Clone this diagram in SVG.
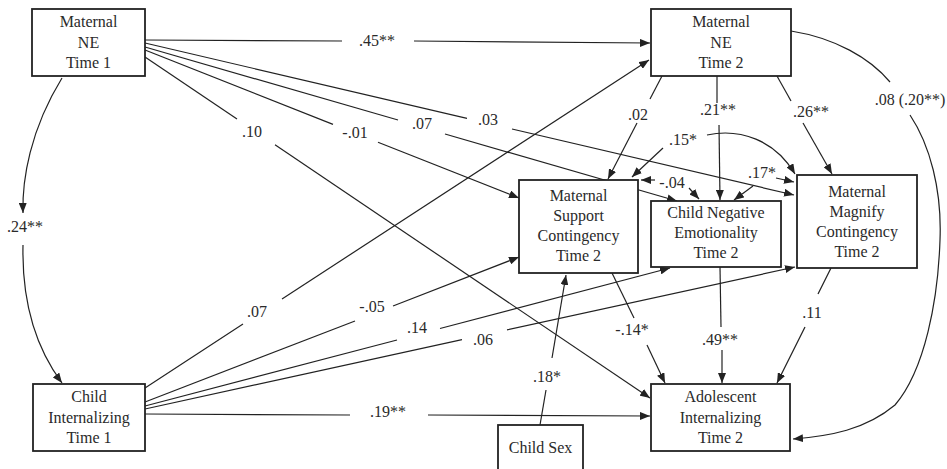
<svg xmlns="http://www.w3.org/2000/svg" width="947" height="469" viewBox="0 0 947 469">
<style>
.box{fill:#fff;stroke:#222;stroke-width:1.8}
.t{font-family:"Liberation Serif","Times New Roman",serif;font-size:16px;fill:#2a2a2a;text-anchor:middle}
.c{fill:none;stroke:#222;stroke-width:1.2}
.a{marker-end:url(#ah)}
.b{marker-start:url(#ah);marker-end:url(#ah)}
.s{marker-start:url(#ah)}
</style>
<defs>
<marker id="ah" viewBox="0 0 10 8" refX="10" refY="4" markerWidth="10" markerHeight="8" markerUnits="userSpaceOnUse" orient="auto-start-reverse">
<path d="M0,0 L10,4 L0,8 z" fill="#222"/>
</marker>
</defs>
<g id="connectors">
<!-- .45** -->
<path class="c" d="M145,40 L342,41"/>
<path class="c a" d="M414,41 L650,43"/>
<!-- .03 -->
<path class="c" d="M145,43 L467,118.4"/>
<path class="c a" d="M512,129 L794,195"/>
<!-- .07 -->
<path class="c" d="M145,47 L398,120"/>
<path class="c a" d="M445,134 L677,201"/>
<!-- -.01 -->
<path class="c" d="M145,50 L333,124.4"/>
<path class="c a" d="M378,142.2 L519,198"/>
<!-- .10 -->
<path class="c" d="M145,57 L237,119"/>
<path class="c a" d="M275,144.8 L650,398"/>
<!-- .02 -->
<path class="c" d="M662,76 L650,99"/>
<path class="c a" d="M637,123 L608,179"/>
<!-- .21** -->
<path class="c" d="M717,76 L717,103"/>
<path class="c a" d="M719,125 L720,200"/>
<!-- .26** -->
<path class="c" d="M777,76 L791,101"/>
<path class="c a" d="M803,123 L832,174"/>
<!-- .08 (.20**) -->
<path class="c" d="M791,31 C835,38 870,58 890,82"/>
<path class="c a" d="M910,115 C930,145 942,190 940,240 C938,300 925,370 895,405 C865,430 830,436 793,439"/>
<!-- .15* -->
<path class="c a" d="M663,148 L632,177"/>
<path class="c a" d="M707,135 C740,128 775,140 795,174"/>
<!-- -.04 -->
<path class="c a" d="M655,180 L641,180"/>
<path class="c a" d="M689,188 L699,199"/>
<!-- .17* -->
<path class="c a" d="M753,186 L734,200"/>
<path class="c a" d="M776,178 L794,182"/>
<!-- .24** -->
<path class="c s" d="M23,213 C22,180 30,130 62,78"/>
<path class="c a" d="M23,245 C22,290 30,340 62,383"/>
<!-- .07 CI1 -> MNE2 -->
<path class="c" d="M145,388 L243,324"/>
<path class="c a" d="M282,299 L649,60"/>
<!-- -.05 -->
<path class="c" d="M145,402 L355,321"/>
<path class="c a" d="M393,306 L519,257"/>
<!-- .14 -->
<path class="c" d="M145,406 L397,340"/>
<path class="c a" d="M440,328.5 L670,268"/>
<!-- .06 -->
<path class="c" d="M145,409 L462,339.7"/>
<path class="c a" d="M507,329.9 L795,267"/>
<!-- .19** -->
<path class="c" d="M145,414 L350,415"/>
<path class="c a" d="M428,415 L650,416"/>
<!-- -.14* -->
<path class="c" d="M612,273 L634,318"/>
<path class="c a" d="M647,345 L665,383"/>
<!-- .49** -->
<path class="c" d="M720,267 L721,327"/>
<path class="c a" d="M722,350 L722,383"/>
<!-- .11 -->
<path class="c" d="M831,268 L818,294"/>
<path class="c a" d="M805,327 L777,383"/>
<!-- .18* -->
<path class="c" d="M540,425 L546,390"/>
<path class="c a" d="M552,358 L566,275"/>
<g class="t">
<text x="377" y="46">.45**</text>
<text x="488" y="125">.03</text>
<text x="422" y="129">.07</text>
<text x="355" y="138">-.01</text>
<text x="252" y="137">.10</text>
<text x="638" y="120">.02</text>
<text x="718" y="115">.21**</text>
<text x="811" y="117">.26**</text>
<text x="910" y="105">.08 (.20**)</text>
<text x="683" y="145">.15*</text>
<text x="672" y="188">-.04</text>
<text x="762" y="178">.17*</text>
<text x="25" y="232">.24**</text>
<text x="257" y="317">.07</text>
<text x="372" y="312">-.05</text>
<text x="417" y="333">.14</text>
<text x="483" y="345">.06</text>
<text x="388" y="417">.19**</text>
<text x="632" y="335">-.14*</text>
<text x="720" y="345">.49**</text>
<text x="812" y="318">.11</text>
<text x="547" y="382">.18*</text>
</g>
</g>
<g id="mne1">
<rect class="box" x="32" y="9" width="113" height="67"/>
<text class="t" x="88.5" y="27">Maternal</text>
<text class="t" x="88.5" y="48">NE</text>
<text class="t" x="88.5" y="68">Time 1</text>
</g>
<g id="mne2">
<rect class="box" x="651" y="9" width="140" height="67"/>
<text class="t" x="721" y="27">Maternal</text>
<text class="t" x="721" y="48">NE</text>
<text class="t" x="721" y="68">Time 2</text>
</g>
<g id="msc">
<rect class="box" x="519" y="180" width="119" height="93"/>
<text class="t" x="578.5" y="201">Maternal</text>
<text class="t" x="578.5" y="221">Support</text>
<text class="t" x="578.5" y="241">Contingency</text>
<text class="t" x="578.5" y="261">Time 2</text>
</g>
<g id="cne">
<rect class="box" x="651" y="201" width="130" height="66"/>
<text class="t" x="716" y="218">Child Negative</text>
<text class="t" x="716" y="238">Emotionality</text>
<text class="t" x="716" y="258">Time 2</text>
</g>
<g id="mmc">
<rect class="box" x="797" y="175" width="120" height="93"/>
<text class="t" x="857" y="197">Maternal</text>
<text class="t" x="857" y="217">Magnify</text>
<text class="t" x="857" y="237">Contingency</text>
<text class="t" x="857" y="257">Time 2</text>
</g>
<g id="ci1">
<rect class="box" x="33" y="384" width="112" height="67"/>
<text class="t" x="89" y="402">Child</text>
<text class="t" x="89" y="423">Internalizing</text>
<text class="t" x="89" y="443">Time 1</text>
</g>
<g id="ai2">
<rect class="box" x="651" y="384" width="139" height="67"/>
<text class="t" x="720.5" y="402">Adolescent</text>
<text class="t" x="720.5" y="423">Internalizing</text>
<text class="t" x="720.5" y="443">Time 2</text>
</g>
<g id="childsex">
<rect class="box" x="498" y="425" width="85" height="60"/>
<text class="t" x="540.5" y="453">Child Sex</text>
</g>
</svg>
